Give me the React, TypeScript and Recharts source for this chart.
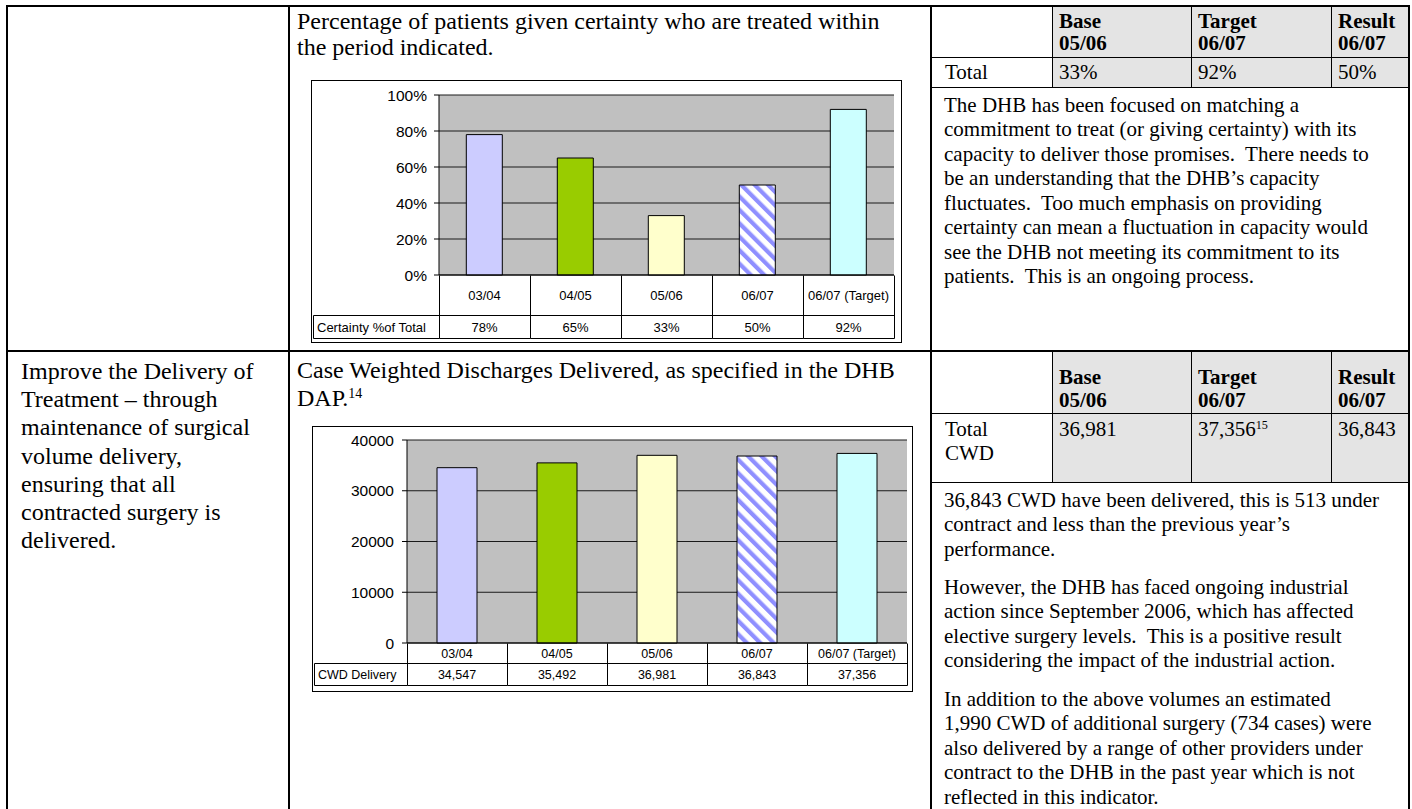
import React from "react";
import { BarChart, Bar, XAxis, YAxis, CartesianGrid, Cell } from "recharts";

// ---------- data ----------
const categories = ["03/04", "04/05", "05/06", "06/07", "06/07 (Target)"];
const certaintyValues = [78, 65, 33, 50, 92];
const certaintyTicks = [0, 20, 40, 60, 80, 100];
const cwdValues = [34547, 35492, 36981, 36843, 37356];
const cwdTicks = [0, 10000, 20000, 30000, 40000];
const certaintyRowLabel = "Certainty %of Total";
const cwdRowLabel = "CWD Delivery";

const tableHeaders = [["Base", "05/06"], ["Target", "06/07"], ["Result", "06/07"]];
// index into the series for Base 05/06, Target 06/07, Result 06/07
const tableIndex = [2, 4, 3];

const r1Title = ["Percentage of patients given certainty who are treated within", "the period indicated."];
const r1Para = [
  "The DHB has been focused on matching a",
  "commitment to treat (or giving certainty) with its",
  "capacity to deliver those promises.  There needs to",
  "be an understanding that the DHB\u2019s capacity",
  "fluctuates.  Too much emphasis on providing",
  "certainty can mean a fluctuation in capacity would",
  "see the DHB not meeting its commitment to its",
  "patients.  This is an ongoing process.",
];
const r2Objective = [
  "Improve the Delivery of",
  "Treatment \u2013 through",
  "maintenance of surgical",
  "volume delivery,",
  "ensuring that all",
  "contracted surgery is",
  "delivered.",
];
const r2TitleLine1 = "Case Weighted Discharges Delivered, as specified in the DHB";
const r2TitleLine2 = "DAP.";
const r2TitleNote = "14";
const r2TargetNote = "15";
const r2P1 = [
  "36,843 CWD have been delivered, this is 513 under",
  "contract and less than the previous year\u2019s",
  "performance.",
];
const r2P2 = [
  "However, the DHB has faced ongoing industrial",
  "action since September 2006, which has affected",
  "elective surgery levels.  This is a positive result",
  "considering the impact of the industrial action.",
];
const r2P3 = [
  "In addition to the above volumes an estimated",
  "1,990 CWD of additional surgery (734 cases) were",
  "also delivered by a range of other providers under",
  "contract to the DHB in the past year which is not",
  "reflected in this indicator.",
];

// ---------- styles ----------
const SERIF = '"Liberation Serif", "Times New Roman", serif';
const SANS = '"Liberation Sans", Arial, sans-serif';
const barFills = ["#ccccff", "#99cc00", "#ffffcc", "STRIPES", "#ccffff"];
const GRAY = "#e4e4e4";

const fmtPct = (v: number) => `${v}%`;
const fmtNum = (v: number) => v.toLocaleString("en-US");

// ---------- helpers ----------
function TextLine(p: { x: number; cy: number; lh: number; size: number; bold?: boolean; children: React.ReactNode }) {
  return (
    <div
      style={{
        position: "absolute",
        left: p.x,
        top: p.cy - p.lh / 2,
        height: p.lh,
        lineHeight: `${p.lh}px`,
        fontSize: p.size,
        fontWeight: p.bold ? 700 : 400,
        whiteSpace: "pre",
      }}
    >
      {p.children}
    </div>
  );
}

function Block(p: { x: number; y0: number; lh: number; size: number; bold?: boolean; lines: React.ReactNode[] }) {
  return (
    <>
      {p.lines.map((l, i) => (
        <TextLine key={i} x={p.x} cy={p.y0 + i * p.lh} lh={p.lh} size={p.size} bold={p.bold}>
          {l}
        </TextLine>
      ))}
    </>
  );
}

const HLine = (p: { x1: number; x2: number; y: number; w?: number }) => (
  <div style={{ position: "absolute", left: p.x1, top: p.y, width: p.x2 - p.x1, height: p.w ?? 1, background: "#000" }} />
);
const VLine = (p: { x: number; y1: number; y2: number; w?: number }) => (
  <div style={{ position: "absolute", left: p.x, top: p.y1, width: p.w ?? 1, height: p.y2 - p.y1, background: "#000" }} />
);
const Box = (p: { x1: number; x2: number; y1: number; y2: number; fill: string }) => (
  <div style={{ position: "absolute", left: p.x1, top: p.y1, width: p.x2 - p.x1, height: p.y2 - p.y1, background: p.fill }} />
);
const Sup = (p: { children: React.ReactNode }) => (
  <span style={{ fontSize: "0.58em", position: "relative", top: "-0.55em" }}>{p.children}</span>
);

// ---------- chart with Excel style data table ----------
type ChartProps = {
  id: string;
  left: number;
  top: number;
  width: number;
  height: number;
  plotLeft: number;
  plotTop: number;
  plotRight: number;
  plotBottom: number;
  catRowH: number;
  dataRowH: number;
  values: number[];
  ticks: number[];
  yFmt: (v: number) => string;
  valFmt: (v: number) => string;
  rowLabel: string;
  tickMargin: number;
  axisFont: number;
  tableFont: number;
};

function TableChart(p: ChartProps) {
  const innerW = p.width - 2;
  const innerH = p.height - 2;
  const data = categories.map((c, i) => ({ cat: c, v: p.values[i] }));
  const n = categories.length;
  const bw = (p.plotRight - p.plotLeft) / n;
  const xAxisH = innerH - p.plotBottom;
  const px = (v: number) => Math.round(v) + 0.5;

  const renderTick = (tp: any) => {
    const idx: number = tp.index ?? tp.payload?.index ?? 0;
    const cx: number = tp.x;
    const y0 = px(p.plotBottom);
    const y1 = px(p.plotBottom + p.catRowH);
    const y2 = px(p.plotBottom + p.catRowH + p.dataRowH);
    const xl = px(cx - bw / 2);
    const xr = px(cx + bw / 2);
    const tstyle = { fontSize: p.tableFont, fontFamily: SANS, fill: "#000" };
    return (
      <g>
        <line x1={xl} y1={y0} x2={xl} y2={y2} stroke="#000" />
        {idx === n - 1 && <line x1={xr} y1={y0} x2={xr} y2={y2} stroke="#000" />}
        <line x1={xl} y1={y1} x2={xr} y2={y1} stroke="#000" />
        <line x1={xl} y1={y2} x2={xr} y2={y2} stroke="#000" />
        <text x={cx} y={(y0 + y1) / 2} textAnchor="middle" dominantBaseline="central" style={tstyle}>
          {tp.payload.value}
        </text>
        <text x={cx} y={(y1 + y2) / 2} textAnchor="middle" dominantBaseline="central" style={tstyle}>
          {p.valFmt(p.values[idx])}
        </text>
        {idx === 0 && (
          <g>
            <line x1={1.5} y1={y1} x2={xl} y2={y1} stroke="#000" />
            <line x1={1.5} y1={y2} x2={xl} y2={y2} stroke="#000" />
            <line x1={1.5} y1={y1} x2={1.5} y2={y2} stroke="#000" />
            <text x={5} y={(y1 + y2) / 2} dominantBaseline="central" style={tstyle}>
              {p.rowLabel}
            </text>
          </g>
        )}
      </g>
    );
  };

  return (
    <div
      style={{
        position: "absolute",
        left: p.left,
        top: p.top,
        width: p.width,
        height: p.height,
        border: "1px solid #000",
        boxSizing: "border-box",
        background: "#fff",
      }}
    >
      <BarChart
        width={innerW}
        height={innerH}
        data={data}
        margin={{ top: p.plotTop, right: innerW - p.plotRight, left: 0, bottom: 0 }}
        barCategoryGap="30%"
      >
        <defs>
          <pattern id={p.id} patternUnits="userSpaceOnUse" width={9.5} height={9.5} patternTransform="rotate(-45)">
            <rect width={9.5} height={9.5} fill="#ffffff" />
            <rect width={4.2} height={9.5} fill="#8f8fff" />
          </pattern>
        </defs>
        <CartesianGrid vertical={false} stroke="#1a1a1a" fill="#c0c0c0" fillOpacity={1} />
        <YAxis
          type="number"
          domain={[p.ticks[0], p.ticks[p.ticks.length - 1]]}
          ticks={p.ticks}
          interval={0}
          width={p.plotLeft}
          tickSize={5}
          tickMargin={p.tickMargin}
          tickFormatter={p.yFmt}
          tick={{ fontSize: p.axisFont, fill: "#000", fontFamily: SANS }}
          axisLine={{ stroke: "#000" }}
          tickLine={{ stroke: "#000" }}
        />
        <XAxis
          dataKey="cat"
          type="category"
          interval={0}
          height={xAxisH}
          tickLine={false}
          axisLine={{ stroke: "#000" }}
          tick={renderTick}
        />
        <Bar dataKey="v" stroke="#000" strokeWidth={1} isAnimationActive={false}>
          {data.map((d, i) => (
            <Cell key={d.cat} fill={barFills[i] === "STRIPES" ? `url(#${p.id})` : barFills[i]} />
          ))}
        </Bar>
      </BarChart>
    </div>
  );
}

// ---------- right-hand results table ----------
const RCOLS = [932, 1052, 1191, 1331, 1408];
const RFS = 21;

function ResultsTable(p: {
  top: number;
  headerBottom: number;
  totalBottom: number;
  headerY: number[];
  totalLabel: string[];
  totalY: number[];
  values: React.ReactNode[];
}) {
  const cols = RCOLS;
  return (
    <>
      <Box x1={cols[1]} x2={cols[4]} y1={p.top} y2={p.totalBottom} fill={GRAY} />
      <HLine x1={cols[0]} x2={cols[4]} y={p.headerBottom} />
      <HLine x1={cols[0]} x2={cols[4]} y={p.totalBottom} />
      {[1, 2, 3].map((c) => (
        <VLine key={c} x={cols[c]} y1={p.top} y2={p.totalBottom} />
      ))}
      {tableHeaders.map((h, i) => (
        <Block key={i} x={cols[i + 1] + 7} y0={p.headerY[0]} lh={p.headerY[1] - p.headerY[0]} size={RFS} bold lines={h} />
      ))}
      <Block x={cols[0] + 13} y0={p.totalY[0]} lh={p.totalY[1] - p.totalY[0]} size={RFS} lines={p.totalLabel} />
      {p.values.map((v, i) => (
        <TextLine key={i} x={cols[i + 1] + 7} cy={p.totalY[0]} lh={24} size={RFS}>
          {v}
        </TextLine>
      ))}
    </>
  );
}

export default function App() {
  const X1 = 288;
  const X2 = 930;
  const Y1 = 350;
  const LEFT_FS = 24;
  const RLH = 24.5;
  const TX = 944;
  return (
    <div
      style={{
        position: "absolute",
        left: 0,
        top: 0,
        width: 1412,
        height: 809,
        background: "#fff",
        overflow: "hidden",
        fontFamily: SERIF,
        color: "#000",
      }}
    >
      {/* ---------- row 1 ---------- */}
      <Block x={297} y0={21} lh={26.5} size={LEFT_FS} lines={r1Title} />
      <TableChart
        id="stripes1"
        left={311}
        top={80}
        width={591}
        height={263}
        plotLeft={127}
        plotTop={14}
        plotRight={582}
        plotBottom={194}
        catRowH={40}
        dataRowH={23}
        values={certaintyValues}
        ticks={certaintyTicks}
        yFmt={fmtPct}
        valFmt={fmtPct}
        rowLabel={certaintyRowLabel}
        tickMargin={7}
        axisFont={15.5}
        tableFont={13}
      />
      <ResultsTable
        top={7}
        headerBottom={57}
        totalBottom={87}
        headerY={[21, 43]}
        totalLabel={["Total"]}
        totalY={[72, 96]}
        values={tableIndex.map((k) => fmtPct(certaintyValues[k]))}
      />
      <Block x={TX} y0={105} lh={RLH} size={RFS} lines={r1Para} />

      {/* ---------- row 2 ---------- */}
      <Block x={21} y0={371} lh={28.2} size={LEFT_FS} lines={r2Objective} />
      <Block
        x={297}
        y0={371}
        lh={27.5}
        size={LEFT_FS}
        lines={[
          r2TitleLine1,
          <>
            {r2TitleLine2}
            <Sup>{r2TitleNote}</Sup>
          </>,
        ]}
      />
      <TableChart
        id="stripes2"
        left={312}
        top={426}
        width={601}
        height={266}
        plotLeft={94}
        plotTop={13}
        plotRight={594}
        plotBottom={216}
        catRowH={20}
        dataRowH={22}
        values={cwdValues}
        ticks={cwdTicks}
        yFmt={(v) => String(v)}
        valFmt={fmtNum}
        rowLabel={cwdRowLabel}
        tickMargin={8}
        axisFont={15.5}
        tableFont={12.5}
      />
      <ResultsTable
        top={Y1 + 2}
        headerBottom={413}
        totalBottom={482}
        headerY={[377, 400]}
        totalLabel={["Total", "CWD"]}
        totalY={[429, 453]}
        values={tableIndex.map((k, i) =>
          i === 1 ? (
            <>
              {fmtNum(cwdValues[k])}
              <Sup>{r2TargetNote}</Sup>
            </>
          ) : (
            fmtNum(cwdValues[k])
          )
        )}
      />
      <Block x={TX} y0={500} lh={RLH} size={RFS} lines={r2P1} />
      <Block x={TX} y0={587} lh={RLH} size={RFS} lines={r2P2} />
      <Block x={TX} y0={699} lh={RLH} size={RFS} lines={r2P3} />

      {/* ---------- outer table rules ---------- */}
      <HLine x1={6} x2={1410} y={5} w={2} />
      <HLine x1={6} x2={1410} y={Y1} w={2} />
      <VLine x={6} y1={5} y2={809} w={2} />
      <VLine x={X1} y1={5} y2={809} w={2} />
      <VLine x={X2} y1={5} y2={809} w={2} />
      <VLine x={1408} y1={5} y2={809} w={2} />
    </div>
  );
}
